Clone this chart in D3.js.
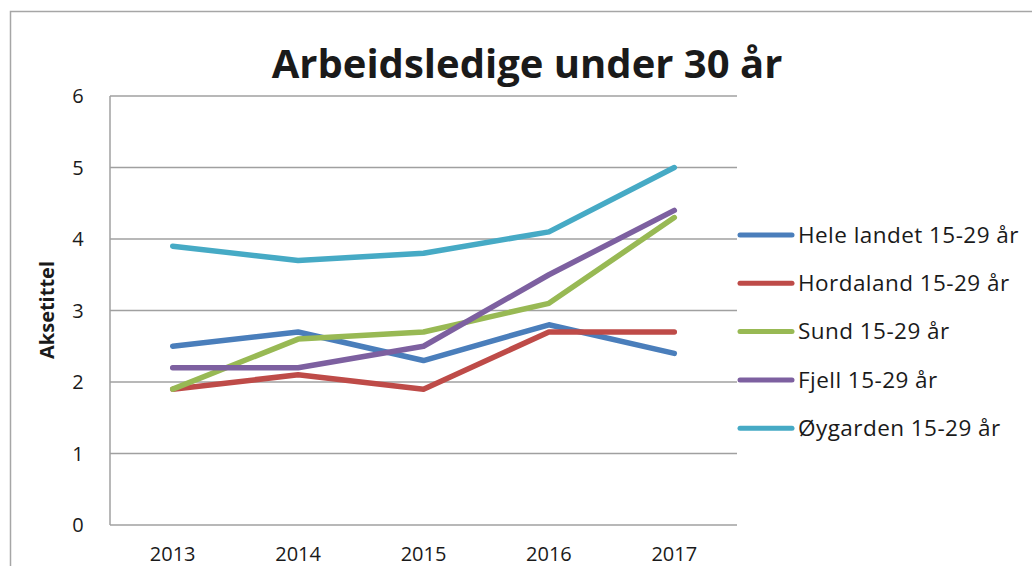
<!DOCTYPE html>
<html>
<head>
<meta charset="utf-8">
<script src="https://cdn.jsdelivr.net/npm/d3@7"></script>
<style>
  body { margin: 0; background: #fff; }
  text { font-family: "Open Sans", sans-serif; fill: #1a1a1a; }
</style>
</head>
<body>
<script>
let width = 1032;
let height = 566;

// chart data
let years = ["2013", "2014", "2015", "2016", "2017"];
let seriesNames = ["Hele landet 15-29 år", "Hordaland 15-29 år", "Sund 15-29 år", "Fjell 15-29 år", "Øygarden 15-29 år"];
let heleLandet = [2.5, 2.7, 2.3, 2.8, 2.4];
let hordaland = [1.9, 2.1, 1.9, 2.7, 2.7];
let sund = [1.9, 2.6, 2.7, 3.1, 4.3];
let fjell = [2.2, 2.2, 2.5, 3.5, 4.4];
let oygarden = [3.9, 3.7, 3.8, 4.1, 5.0];
let yTicks = [0, 1, 2, 3, 4, 5, 6];
let colors = ["#4a7ebb", "#be4b48", "#98b954", "#7d60a0", "#46aac5"];

let allSeries = [heleLandet, hordaland, sund, fjell, oygarden];

let svg = d3.select("body").append("svg")
            .attr("width", width)
            .attr("height", height);

// outer chart frame
svg.append("rect")
   .attr("x", 10.5).attr("y", 11.5)
   .attr("width", 1040).attr("height", 600)
   .attr("fill", "none")
   .attr("stroke", "#a6a6a6")
   .attr("stroke-width", 1.5);

let plot = {left: 110, right: 737, top: 96, bottom: 525};

let x = d3.scaleBand()
          .domain(years)
          .range([plot.left, plot.right]);

let y = d3.scaleLinear()
          .domain([0, 6])
          .range([plot.bottom, plot.top]);

// gridlines
svg.append("g")
   .selectAll("line")
   .data(yTicks)
   .enter().append("line")
   .attr("x1", plot.left).attr("x2", plot.right)
   .attr("y1", d => y(d)).attr("y2", d => y(d))
   .attr("stroke", "#a0a0a0")
   .attr("stroke-width", 1.5);

// vertical axis line
svg.append("line")
   .attr("x1", plot.left).attr("x2", plot.left)
   .attr("y1", plot.top).attr("y2", plot.bottom)
   .attr("stroke", "#a0a0a0")
   .attr("stroke-width", 1.5);

// y tick labels
svg.append("g")
   .selectAll("text")
   .data(yTicks)
   .enter().append("text")
   .attr("x", 78)
   .attr("y", d => y(d))
   .attr("dy", "0.35em")
   .attr("text-anchor", "middle")
   .style("font-size", "20px")
   .text(d => d);

// x tick labels
svg.append("g")
   .selectAll("text")
   .data(years)
   .enter().append("text")
   .attr("x", d => x(d) + x.bandwidth() / 2)
   .attr("y", 561)
   .attr("text-anchor", "middle")
   .style("font-size", "20px")
   .text(d => d);

// axis title
svg.append("text")
   .attr("transform", "translate(54,310) rotate(-90)")
   .attr("text-anchor", "middle")
   .style("font-size", "20px")
   .style("font-weight", "bold")
   .text("Aksetittel");

// title
svg.append("text")
   .attr("x", 527)
   .attr("y", 78)
   .attr("text-anchor", "middle")
   .style("font-size", "40px")
   .style("font-weight", "bold")
   .text("Arbeidsledige under 30 år");

// series lines
let line = d3.line()
             .x((d, i) => x(years[i]) + x.bandwidth() / 2)
             .y(d => y(d));

svg.append("g")
   .selectAll("path")
   .data(allSeries)
   .enter().append("path")
   .attr("d", d => line(d))
   .attr("fill", "none")
   .attr("stroke", (d, i) => colors[i])
   .attr("stroke-width", 5.5)
   .attr("stroke-linejoin", "round")
   .attr("stroke-linecap", "round");

// legend
let legend = svg.append("g")
                .selectAll("g")
                .data(seriesNames)
                .enter().append("g")
                .attr("transform", (d, i) => "translate(738," + (235 + i * 48.3) + ")");

legend.append("line")
      .attr("x1", 2).attr("x2", 54)
      .attr("y1", 0).attr("y2", 0)
      .attr("stroke", (d, i) => colors[i])
      .attr("stroke-width", 5)
      .attr("stroke-linecap", "round");

legend.append("text")
      .attr("x", 60)
      .attr("dy", "0.35em")
      .style("font-size", "22.5px")
      .style("letter-spacing", "0.45px")
      .text(d => d);
</script>
</body>
</html>
